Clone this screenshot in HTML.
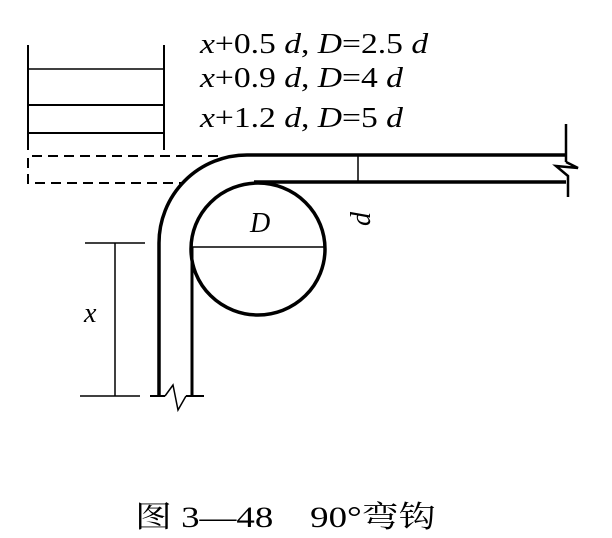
<!DOCTYPE html>
<html><head><meta charset="utf-8"><style>
html,body{margin:0;padding:0;background:#fff;}
svg{display:block;}
text{font-family:"Liberation Serif","Noto Serif CJK SC",serif;fill:#000;}
</style></head><body>
<svg width="612" height="538" viewBox="0 0 612 538" xmlns="http://www.w3.org/2000/svg">
<g stroke="#000" fill="none">
<line x1="28" y1="45" x2="28" y2="150" stroke-width="2"/>
<line x1="164" y1="45" x2="164" y2="150" stroke-width="2"/>
<line x1="28" y1="69" x2="164" y2="69" stroke-width="1.5"/>
<line x1="28" y1="105" x2="164" y2="105" stroke-width="2"/>
<line x1="28" y1="133" x2="164" y2="133" stroke-width="2"/>
<path d="M218 156 H28 V183 H184" stroke-width="2" stroke-dasharray="10,6"/>
<path d="M566 155 H247 A88 88 0 0 0 159 243 V396" stroke-width="3.5"/>
<path d="M566 182 H254" stroke-width="3.5"/>
<path d="M192 247 V396" stroke-width="3"/>
<ellipse cx="258" cy="249" rx="67" ry="66" stroke-width="3.5"/>
<line x1="566" y1="124" x2="566" y2="162" stroke-width="2.5"/>
<path d="M566 162 L578 168 L556 166 L568 176 L568 197" stroke-width="2.5"/>
<line x1="150" y1="396" x2="165" y2="396" stroke-width="2"/>
<line x1="186" y1="396" x2="204" y2="396" stroke-width="2"/>
<path d="M165 396 L173 385 L178 410 L186 396" stroke-width="1.5"/>
<line x1="191" y1="247" x2="325" y2="247" stroke-width="1.5"/>
<line x1="358" y1="155" x2="358" y2="182" stroke-width="1.5"/>
<line x1="115" y1="243" x2="115" y2="396" stroke-width="1.5"/>
<line x1="85" y1="243" x2="145" y2="243" stroke-width="1.5"/>
<line x1="80" y1="396" x2="140" y2="396" stroke-width="1.5"/>
</g>
<g font-size="28" transform="translate(200,0) scale(1.2,1)">
<text x="0" y="53"><tspan font-style="italic">x</tspan>+0.5 <tspan font-style="italic">d</tspan>, <tspan font-style="italic">D</tspan>=2.5 <tspan font-style="italic">d</tspan></text>
<text x="0" y="87"><tspan font-style="italic">x</tspan>+0.9 <tspan font-style="italic">d</tspan>, <tspan font-style="italic">D</tspan>=4 <tspan font-style="italic">d</tspan></text>
<text x="0" y="127"><tspan font-style="italic">x</tspan>+1.2 <tspan font-style="italic">d</tspan>, <tspan font-style="italic">D</tspan>=5 <tspan font-style="italic">d</tspan></text>
</g>
<g font-size="28">
<text x="250" y="232" font-style="italic">D</text>
<text x="84" y="322" font-style="italic">x</text>
<text transform="translate(370,226) rotate(-90)" font-style="italic">d</text>
</g>
<text transform="translate(135,527) scale(1.23,1)" font-size="30">图 3—48　90°弯钩</text>
</svg>
</body></html>
